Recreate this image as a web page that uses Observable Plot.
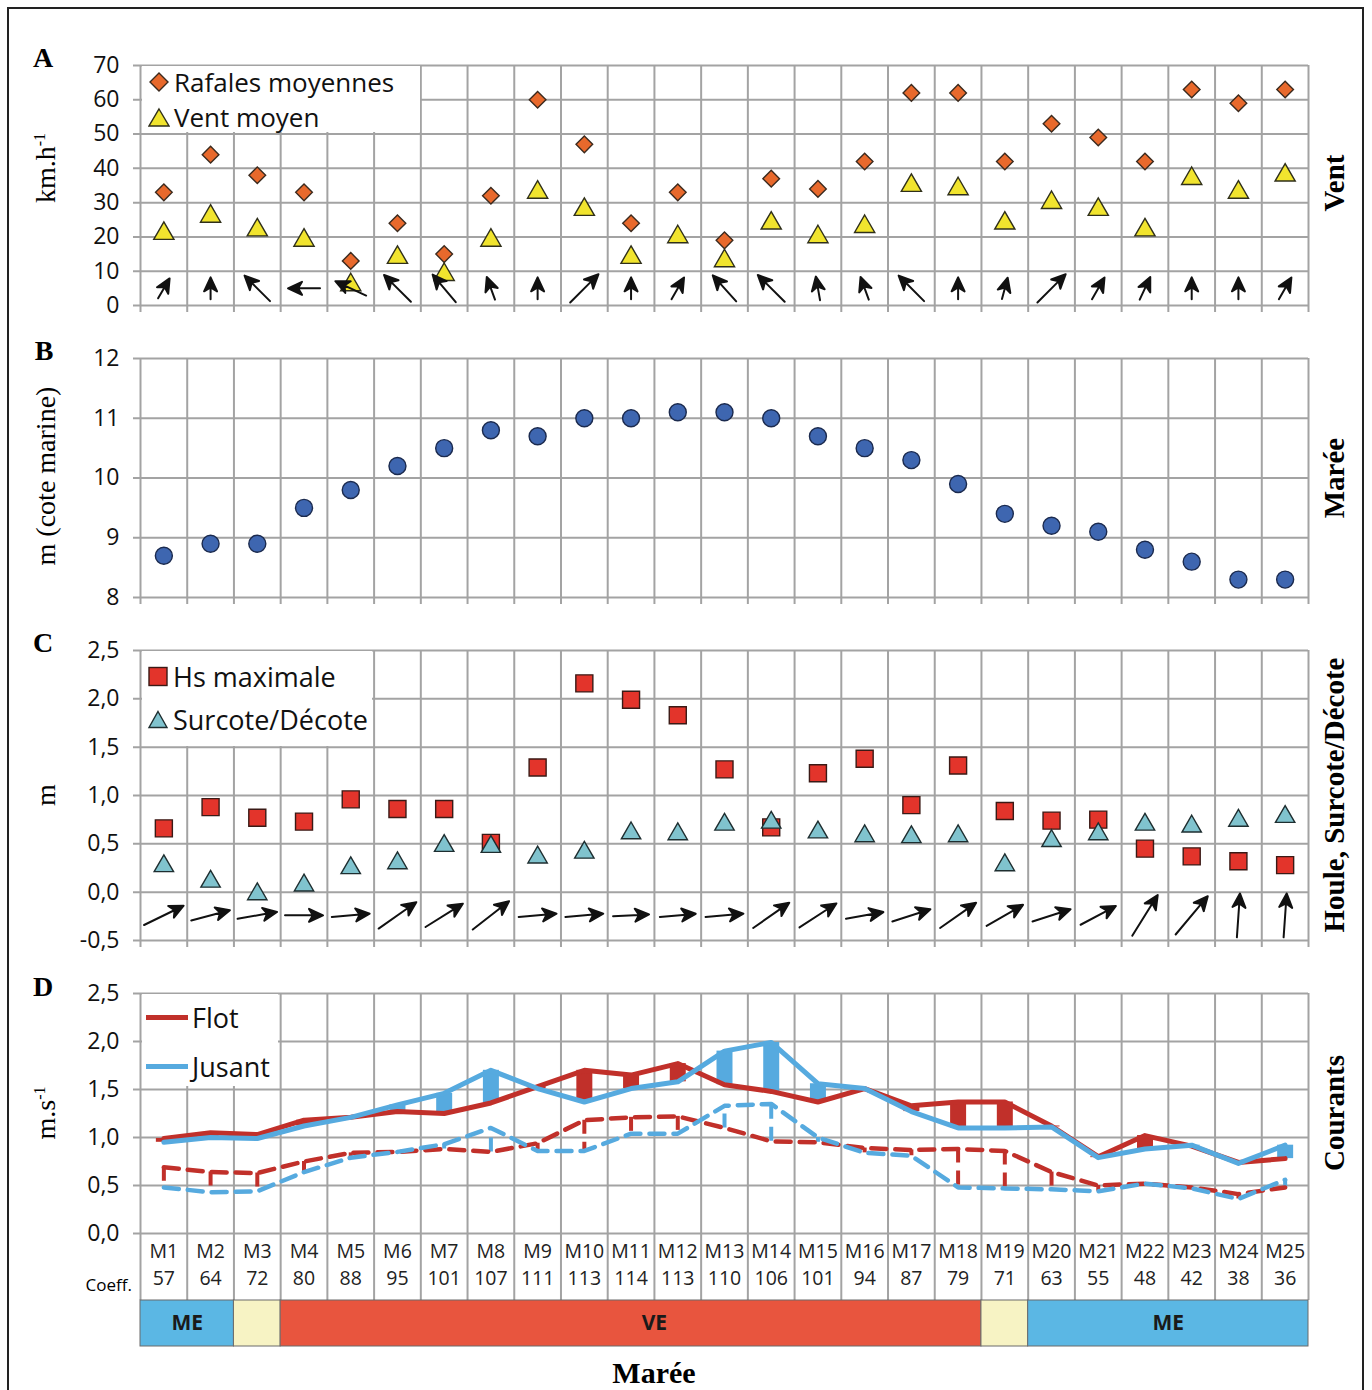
<!DOCTYPE html>
<html>
<head>
<meta charset="utf-8">
<script src="https://cdn.jsdelivr.net/npm/d3@7"></script>
<script src="https://cdn.jsdelivr.net/npm/@observablehq/plot@0.6"></script>
<style>
  body { margin: 0; background: #fff; }
  #fig { position: relative; width: 1372px; height: 1390px; overflow: hidden; font-family: "Open Sans", sans-serif; background:#fff; }
  #fig svg { position: absolute; left: 0; }
  .border { position: absolute; left: 7px; top: 7px; width: 1357px; height: 1385px; border: 2px solid #222; box-sizing: border-box; pointer-events: none; }
  .letter { position: absolute; font-family: "Liberation Serif", serif; font-weight: bold; font-size: 28px; line-height: 1; transform: translate(-50%, -50%); }
  .rot { position: absolute; white-space: nowrap; line-height: 1; transform: translate(-50%, -50%) rotate(-90deg); font-family: "Liberation Serif", serif; }
  .rtitle { font-weight: bold; font-size: 29px; }
  .ytitle { font-size: 28px; }
  .legend { position: absolute; background: #fff; font-family: "Open Sans", sans-serif; font-size: 27px; color: #111; }
  .legend .item { position: absolute; left: 0; display: flex; align-items: center; white-space: nowrap; line-height: 1; transform: translateY(-50%); }
  .legend svg { position: static !important; }
  .htext { position: absolute; white-space: nowrap; line-height: 1; transform: translate(-100%, -50%); font-size: 17px; font-family: "Open Sans", sans-serif; }
  .bottomtitle { position: absolute; font-family: "Liberation Serif", serif; font-weight: bold; font-size: 30px; line-height: 1; transform: translate(-50%, -50%); }
</style>
</head>
<body>
<div id="fig"></div>
<script>
// ---------------- DATA ----------------
const mareeLabels = ["M1","M2","M3","M4","M5","M6","M7","M8","M9","M10","M11","M12","M13","M14","M15","M16","M17","M18","M19","M20","M21","M22","M23","M24","M25"];
const coeffs = [57,64,72,80,88,95,101,107,111,113,114,113,110,106,101,94,87,79,71,63,55,48,42,38,36];

// A - Vent (km/h)
const rafales = [33,44,38,33,13,24,15,32,60,47,24,33,19,37,34,42,62,62,42,53,49,42,63,59,63];
const ventMoyen = [21,26,22,19,6,14,9,19,33,28,14,20,13,24,20,23,35,34,24,30,28,22,37,33,38];
const windDir = [30,0,315,270,295,315,320,340,0,45,0,30,318,315,350,340,315,0,15,45,30,25,0,0,30];   // degrees, direction pointed to
const windMag = [23,22,36,32,34,38,36,24,22,40,22,25,35,38,24,24,36,22,22,40,25,25,22,22,25];
const windRowY = 5;

// B - Marée (m, cote marine)
const maree = [8.7,8.9,8.9,9.5,9.8,10.2,10.5,10.8,10.7,11.0,11.0,11.1,11.1,11.0,10.7,10.5,10.3,9.9,9.4,9.2,9.1,8.8,8.6,8.3,8.3];

// C - Houle, Surcote/Décote (m)
const hsMax = [0.66,0.88,0.77,0.73,0.96,0.86,0.86,0.51,1.29,2.16,1.99,1.83,1.27,0.67,1.23,1.38,0.90,1.31,0.84,0.74,0.75,0.45,0.37,0.32,0.28];
const surcote = [0.27,0.11,-0.02,0.07,0.25,0.30,0.48,0.47,0.36,0.41,0.61,0.60,0.70,0.72,0.62,0.58,0.57,0.58,0.28,0.53,0.60,0.70,0.68,0.74,0.78];
const waveDir = [64,75,80,90,85,55,58,52,85,85,87,85,85,55,57,80,72,55,60,72,62,32,40,4,4];
const waveMag = [44,40,40,38,38,46,44,46,38,38,36,36,38,44,44,38,40,44,42,40,40,48,50,44,44];
const waveRowY = -0.24;

// D - Courants (m/s)
const flotMax   = [0.99,1.05,1.03,1.18,1.21,1.27,1.25,1.36,1.53,1.70,1.65,1.77,1.55,1.48,1.37,1.51,1.33,1.37,1.37,1.12,0.80,1.02,0.91,0.74,0.78];
const jusantMax = [0.95,1.00,0.99,1.12,1.21,1.34,1.46,1.70,1.51,1.37,1.51,1.58,1.90,1.99,1.56,1.51,1.27,1.10,1.10,1.11,0.79,0.88,0.92,0.73,0.92];
const flotMoy   = [0.69,0.64,0.63,0.75,0.84,0.85,0.88,0.85,0.94,1.18,1.21,1.22,1.10,0.96,0.95,0.89,0.87,0.88,0.86,0.64,0.50,0.52,0.48,0.41,0.48];
const jusantMoy = [0.48,0.43,0.44,0.64,0.79,0.85,0.93,1.10,0.86,0.86,1.04,1.04,1.33,1.35,1.00,0.84,0.81,0.48,0.47,0.46,0.44,0.52,0.47,0.36,0.56];

// tide phases
const phases = [
  {label: "ME", from: 1, to: 2, kind: "ME"},
  {label: "", from: 3, to: 3, kind: "T"},
  {label: "VE", from: 4, to: 18, kind: "VE"},
  {label: "", from: 19, to: 19, kind: "T"},
  {label: "ME", from: 20, to: 25, kind: "ME"}
];
const phaseLabels = [{label: "ME", at: 1.5}, {label: "VE", at: 11.5}, {label: "ME", at: 22.5}];

const ticksA = [0,10,20,30,40,50,60,70];
const ticksB = [8,9,10,11,12];
const ticksC = [-0.5,0,0.5,1,1.5,2,2.5];
const ticksD = [0,0.5,1,1.5,2,2.5];

// ---------------- STYLE ----------------
const GRID = "#a3a3a3";
const ORANGE = "#e8692c", YELLOW = "#f1e42e", BLUEDOT = "#3e66b0", REDSQ = "#e3342b", TEAL = "#80c3ce";
const RED = "#c1302a", BLUE = "#56aadf";
const PH_COL = {ME: "#5bb7e4", T: "#f7f3c4", VE: "#e8553e"};

const rows = mareeLabels.map((m, k) => ({
  i: k + 1, m, coeff: coeffs[k],
  raf: rafales[k], vent: ventMoyen[k], wdir: windDir[k], wmag: windMag[k],
  maree: maree[k],
  hs: hsMax[k], sur: surcote[k], hdir: waveDir[k], hmag: waveMag[k],
  fM: flotMax[k], jM: jusantMax[k], fm: flotMoy[k], jm: jusantMoy[k]
}));
const bounds = d3.range(0, 26).map(k => k + 0.5);
const frFmt = d => d3.format(".1f")(d).replace(".", ",").replace("\u2212", "-");

const arrowShape = {
  draw(context, l) {
    const head = 14, w = 6.5;
    context.moveTo(0, 0);
    context.lineTo(0, -l + head * 0.7);
    context.moveTo(0, -l);
    context.lineTo(-w, -l + head);
    context.lineTo(0, -l + head * 0.72);
    context.lineTo(w, -l + head);
    context.closePath();
  }
};

function base(opts) {
  return Object.assign({
    width: 1372, marginLeft: 140, marginRight: 64,
    x: {domain: [0.5, 25.5], axis: null},
    style: {fontFamily: '"Open Sans", sans-serif', fontSize: "22px", background: "transparent", color: "#111", overflow: "visible"}
  }, opts);
}
function grid(ticks, ext) {
  return [
    Plot.ruleY(ticks, {stroke: GRID, strokeWidth: 2, insetLeft: -7}),
    Plot.ruleX(bounds, {stroke: GRID, strokeWidth: 2, insetBottom: -ext})
  ];
}
function yaxis(ticks, fmt) {
  return Plot.axisY(ticks, {tickSize: 0, tickPadding: 21, tickFormat: fmt, label: null, fontSize: 23});
}

const fig = document.getElementById("fig");
function place(svg, top) { svg.style.top = top + "px"; fig.appendChild(svg); }

// ---------------- PANEL A ----------------
const pA = Plot.plot(base({
  height: 280, marginTop: 25, marginBottom: 15,
  y: {domain: [0, 70], axis: null},
  length: {domain: [0, 100], range: [0, 100]},
  marks: [
    ...grid(ticksA, 7),
    yaxis(ticksA, d3.format("d")),
    Plot.dot(rows, {x: "i", y: "raf", symbol: "diamond2", r: 7.5, fill: ORANGE, stroke: "#3b2a1e", strokeWidth: 1.4}),
    Plot.dot(rows, {x: "i", y: "vent", symbol: "triangle", r: 7.5, fill: YELLOW, stroke: "#2f2f1a", strokeWidth: 1.4}),
    Plot.vector(rows, {x: "i", y: () => windRowY, rotate: "wdir", length: "wmag", anchor: "middle", shape: arrowShape, stroke: "#111", fill: "#111", strokeWidth: 2})
  ]
}));
place(pA, 40);

// ---------------- PANEL B ----------------
const pB = Plot.plot(base({
  height: 275, marginTop: 23, marginBottom: 13,
  y: {domain: [8, 12], axis: null},
  marks: [
    ...grid(ticksB, 7),
    yaxis(ticksB, d3.format("d")),
    Plot.dot(rows, {x: "i", y: "maree", r: 8.5, fill: BLUEDOT, stroke: "#1b2a4e", strokeWidth: 1.4})
  ]
}));
place(pB, 335);

// ---------------- PANEL C ----------------
const pC = Plot.plot(base({
  height: 330, marginTop: 25, marginBottom: 15,
  y: {domain: [-0.5, 2.5], axis: null},
  length: {domain: [0, 100], range: [0, 100]},
  marks: [
    ...grid(ticksC, 7),
    yaxis(ticksC, frFmt),
    Plot.dot(rows, {x: "i", y: "hs", symbol: "square", r: 9.6, fill: REDSQ, stroke: "#3a1a16", strokeWidth: 1.4}),
    Plot.dot(rows, {x: "i", y: "sur", symbol: "triangle", r: 7.2, fill: TEAL, stroke: "#1e2e30", strokeWidth: 1.4}),
    Plot.vector(rows, {x: "i", y: () => waveRowY, rotate: "hdir", length: "hmag", anchor: "middle", shape: arrowShape, stroke: "#111", fill: "#111", strokeWidth: 2})
  ]
}));
place(pC, 625);

// ---------------- PANEL D ----------------
const pD = Plot.plot(base({
  height: 330, marginTop: 23, marginBottom: 67,
  y: {domain: [0, 2.5], axis: null},
  marks: [
    ...grid(ticksD, 67),
    yaxis(ticksD, frFmt),
    Plot.ruleX(rows, {x: "i", y1: "fm", y2: "jm", stroke: d => d.fm >= d.jm ? RED : BLUE, strokeWidth: 4, strokeDasharray: "14,8"}),
    Plot.line(rows, {x: "i", y: "fm", stroke: RED, strokeWidth: 4.5, strokeDasharray: "15,9"}),
    Plot.line(rows, {x: "i", y: "jm", stroke: BLUE, strokeWidth: 4.5, strokeDasharray: "15,9"}),
    Plot.ruleX(rows, {x: "i", y1: "fM", y2: "jM", stroke: d => d.fM >= d.jM ? RED : BLUE, strokeWidth: 16}),
    Plot.line(rows, {x: "i", y: "fM", stroke: RED, strokeWidth: 5}),
    Plot.line(rows, {x: "i", y: "jM", stroke: BLUE, strokeWidth: 5}),
    Plot.text(rows, {x: "i", text: "m", frameAnchor: "bottom", dy: 24, fontSize: 19.5, fill: "#222"}),
    Plot.text(rows, {x: "i", text: d => String(d.coeff), frameAnchor: "bottom", dy: 51, fontSize: 19.5, fill: "#222"})
  ]
}));
place(pD, 970);

// ---------------- PHASE BAR ----------------
const pE = Plot.plot(base({
  height: 47, marginTop: 0, marginBottom: 1,
  marks: [
    Plot.rect(phases, {x1: d => d.from - 0.5, x2: d => d.to + 0.5, fill: d => PH_COL[d.kind], stroke: "#6b6b6b", strokeWidth: 1}),
    Plot.text(phaseLabels, {x: "at", text: "label", frameAnchor: "middle", fontSize: 21, fontWeight: "bold", fill: "#1a1a1a"})
  ]
}));
place(pE, 1300);

// ---------------- HTML TEXT / LEGENDS ----------------
function addDiv(cls, html, left, top, extra) {
  const d = document.createElement("div");
  d.className = cls; d.innerHTML = html;
  d.style.left = left + "px"; d.style.top = top + "px";
  if (extra) Object.assign(d.style, extra);
  fig.appendChild(d);
  return d;
}
// panel letters
addDiv("letter", "A", 43, 58);
addDiv("letter", "B", 44, 351);
addDiv("letter", "C", 43, 643);
addDiv("letter", "D", 43, 987);
// y titles
addDiv("rot ytitle", "km.h<sup style='font-size:16px'>-1</sup>", 46, 168);
addDiv("rot ytitle", "m (cote marine)", 46, 476);
addDiv("rot ytitle", "m", 46, 795);
addDiv("rot ytitle", "m.s<sup style='font-size:16px'>-1</sup>", 46, 1113);
// right titles
addDiv("rot rtitle", "Vent", 1334, 183);
addDiv("rot rtitle", "Marée", 1334, 478);
addDiv("rot rtitle", "Houle, Surcote/Décote", 1334, 795);
addDiv("rot rtitle", "Courants", 1334, 1113);
// coeff label + bottom title
addDiv("htext", "Coeff.", 132, 1284);
addDiv("bottomtitle", "Marée", 654, 1373);

// legends
const sw = (inner, w = 22, h = 22) => `<svg width="${w}" height="${h}" viewBox="0 0 ${w} ${h}" style="margin-right:4px">${inner}</svg>`;
const legA = addDiv("legend", "", 142, 66, {width: "278px", height: "66px", fontSize: "26px"});
legA.innerHTML =
  `<div class="item" style="top:16px;left:6px">${sw(`<path d="M11 2 L20 11 L11 20 L2 11 Z" fill="${ORANGE}" stroke="#3b2a1e" stroke-width="1.4"/>`)}Rafales moyennes</div>` +
  `<div class="item" style="top:51px;left:6px">${sw(`<path d="M11 3 L21 20 L1 20 Z" fill="${YELLOW}" stroke="#2f2f1a" stroke-width="1.4"/>`)}Vent moyen</div>`;
const legC = addDiv("legend", "", 142, 651, {width: "230px", height: "95px"});
legC.innerHTML =
  `<div class="item" style="top:25px;left:5px">${sw(`<rect x="2" y="2" width="18" height="18" fill="${REDSQ}" stroke="#3a1a16" stroke-width="1.4"/>`)}Hs maximale</div>` +
  `<div class="item" style="top:68px;left:5px">${sw(`<path d="M11 3 L20 19 L2 19 Z" fill="${TEAL}" stroke="#1e2e30" stroke-width="1.4"/>`)}Surcote/Décote</div>`;
const legD = addDiv("legend", "", 142, 994, {width: "136px", height: "92px"});
legD.innerHTML =
  `<div class="item" style="top:23px;left:4px">${sw(`<line x1="0" y1="11" x2="42" y2="11" stroke="${RED}" stroke-width="5"/>`, 42, 22)}Flot</div>` +
  `<div class="item" style="top:72px;left:4px">${sw(`<line x1="0" y1="11" x2="42" y2="11" stroke="${BLUE}" stroke-width="5"/>`, 42, 22)}Jusant</div>`;

const border = document.createElement("div");
border.className = "border";
fig.appendChild(border);
</script>
</body>
</html>
